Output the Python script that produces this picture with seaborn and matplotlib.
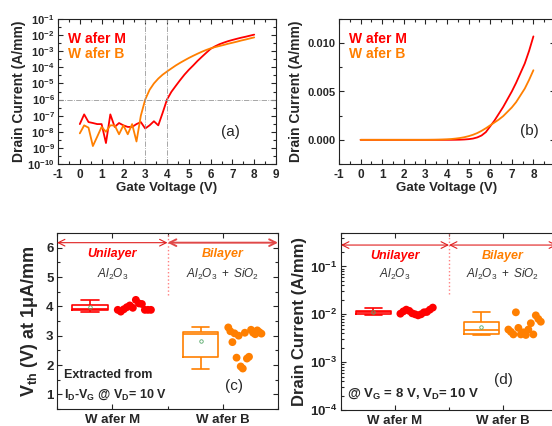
import numpy as np
import pandas as pd
import matplotlib
matplotlib.use('Agg')
import matplotlib.pyplot as plt
import seaborn as sns
from matplotlib.ticker import MultipleLocator, FixedLocator, FuncFormatter, LogLocator, NullFormatter

# ---------------- data ----------------
gate_voltage = np.round(np.arange(0, 8.01, 0.2), 1)
id_wafer_m = [3e-8, 1.2e-7, 4e-8, 3.5e-8, 3e-8, 3e-8, 2e-9, 1.2e-7, 2e-8, 3.5e-8,
              2.5e-8, 2e-8, 2e-8, 3e-8, 4e-8, 1.6e-8, 2.5e-8, 4.5e-8, 2.5e-8, 1.5e-7,
              1e-6, 3e-6, 7e-6, 1.6e-5, 3.5e-5, 7e-5, 1.3e-4, 2.5e-4, 4.5e-4, 8e-4,
              1.4e-3, 2e-3, 2.7e-3, 3.4e-3, 4.2e-3, 5.0e-3, 5.9e-3, 6.9e-3, 7.9e-3, 9.2e-3,
              1.07e-2]
id_wafer_b = [8e-9, 2.5e-8, 1.8e-8, 1.3e-9, 5e-9, 2e-8, 1e-8, 2.5e-8, 2.5e-8, 7e-9,
              2.5e-8, 7e-9, 3e-8, 2.5e-9, 1e-7, 1e-6, 4e-6, 1e-5, 2e-5, 3.5e-5,
              5.5e-5, 8.5e-5, 1.3e-4, 1.9e-4, 2.7e-4, 3.8e-4, 5.2e-4, 7e-4, 9.3e-4, 1.2e-3,
              1.5e-3, 1.8e-3, 2.1e-3, 2.45e-3, 2.9e-3, 3.35e-3, 3.9e-3, 4.6e-3, 5.3e-3, 6.2e-3,
              7.2e-3]

wafers = ['W afer M', 'W afer B']
vth_m = [3.88, 3.82, 3.90, 3.97, 4.03, 3.95, 4.22, 4.10, 4.08, 3.88, 3.88, 3.88]
vth_b = [3.28, 3.15, 2.78, 3.08, 2.25, 3.00, 1.95, 1.88, 3.10, 2.22, 2.28, 3.20,
         3.10, 3.05, 3.18, 3.12, 3.07]
idmax_m = [1.03e-2, 1.15e-2, 1.25e-2, 1.18e-2, 1.05e-2, 1.0e-2, 9.5e-3, 1.0e-2,
           1.1e-2, 1.12e-2, 1.25e-2, 1.38e-2]
idmax_b = [4.8e-3, 4.3e-3, 3.8e-3, 1.1e-2, 5.2e-3, 3.8e-3, 4.2e-3, 3.7e-3,
           4.8e-3, 6.5e-3, 3.8e-3, 9.5e-3, 8.0e-3, 7.0e-3]

RED = '#ff0000'
ORANGE = '#ff7f00'
palette = {wafers[0]: RED, wafers[1]: ORANGE}

# ---------------- style ----------------
sns.set_theme(style='ticks')
plt.rcParams['font.family'] = ['Liberation Sans', 'DejaVu Sans']
plt.rcParams.update({
    'mathtext.fontset': 'custom',
    'mathtext.rm': 'Liberation Sans',
    'mathtext.it': 'Liberation Sans:italic',
    'mathtext.bf': 'Liberation Sans:bold',
    'mathtext.default': 'bf',
    'axes.unicode_minus': False,
    'axes.linewidth': 0.8,
    'axes.edgecolor': '#222222',
    'xtick.direction': 'in',
    'ytick.direction': 'in',
    'xtick.major.size': 3.5,
    'ytick.major.size': 3.5,
    'xtick.minor.size': 2,
    'ytick.minor.size': 2,
    'xtick.major.pad': 3.5,
    'ytick.major.pad': 2.5,
})

fig = plt.figure(figsize=(5.52, 4.26), dpi=100)
W, H = 552, 426
ax_a = fig.add_axes([58 / W, 1 - 164 / H, 218 / W, 145 / H])
ax_b = fig.add_axes([339 / W, 1 - 164 / H, 216 / W, 145 / H])
ax_c = fig.add_axes([57 / W, 1 - 409 / H, 221 / W, 176 / H])
ax_d = fig.add_axes([341 / W, 1 - 410 / H, 216 / W, 177 / H])


def style_axes(ax, size=8.5):
    ax.tick_params(which='both', top=True, right=True, labelsize=size, width=0.8)
    for lbl in ax.get_xticklabels() + ax.get_yticklabels():
        lbl.set_fontweight('bold')


def legend_text(ax, y):
    leg = ax.legend(loc='upper left', bbox_to_anchor=(0.0, y), frameon=False, handlelength=0,
                    handletextpad=0, labelcolor='linecolor', prop={'weight': 'bold', 'size': 10},
                    labelspacing=0.12, borderaxespad=0.3)
    for h in leg.legend_handles:
        h.set_visible(False)


df_iv = pd.DataFrame({
    'Vg': np.concatenate([gate_voltage, gate_voltage]),
    'Id': id_wafer_m + id_wafer_b,
    'wafer': [wafers[0]] * len(gate_voltage) + [wafers[1]] * len(gate_voltage),
})
log_fmt = FuncFormatter(lambda v, p: f'$10^{{{int(round(np.log10(v)))}}}$')

# ---------------- (a) log transfer ----------------
sns.lineplot(data=df_iv, x='Vg', y='Id', hue='wafer', palette=palette, lw=1.3, ax=ax_a)
ax_a.set_yscale('log')
ax_a.set_ylim(1e-10, 1e-1)
ax_a.set_xlim(-1, 9)
ax_a.axvline(3, color='#999999', ls='-.', lw=0.6)
ax_a.axvline(4, color='#999999', ls='-.', lw=0.6)
ax_a.axhline(1e-6, color='#999999', ls='-.', lw=0.6)
ax_a.xaxis.set_major_locator(MultipleLocator(1))
ax_a.xaxis.set_minor_locator(MultipleLocator(0.5))
ax_a.yaxis.set_major_locator(LogLocator(base=10, numticks=20))
ax_a.yaxis.set_minor_locator(FixedLocator([10 ** (e + 0.5) for e in range(-10, -1)]))
ax_a.yaxis.set_minor_formatter(NullFormatter())
ax_a.yaxis.set_major_formatter(log_fmt)
ax_a.set_xlabel('Gate Voltage (V)', fontsize=9.5, fontweight='bold', labelpad=1)
ax_a.set_ylabel('Drain Current (A/mm)', fontsize=10, fontweight='bold', labelpad=1)
legend_text(ax_a, 0.98)
ax_a.text(0.79, 0.22, '(a)', transform=ax_a.transAxes, fontsize=11, ha='center', va='center')
style_axes(ax_a, 8)
ax_a.tick_params(axis='x', labelsize=8.5)

# ---------------- (b) linear transfer ----------------
sns.lineplot(data=df_iv, x='Vg', y='Id', hue='wafer', palette=palette, lw=1.3, ax=ax_b)
ax_b.set_ylim(-0.0025, 0.0125)
ax_b.set_xlim(-1, 9)
ax_b.xaxis.set_major_locator(FixedLocator(range(-1, 9)))
ax_b.xaxis.set_minor_locator(MultipleLocator(0.5))
ax_b.yaxis.set_major_locator(MultipleLocator(0.005))
ax_b.yaxis.set_minor_locator(MultipleLocator(0.0025))
ax_b.yaxis.set_major_formatter(FuncFormatter(lambda v, p: f'{v:.3f}'))
ax_b.set_xlabel('Gate Voltage (V)', fontsize=9.5, fontweight='bold', labelpad=1)
ax_b.set_ylabel('Drain Current (A/mm)', fontsize=10, fontweight='bold', labelpad=3)
legend_text(ax_b, 0.98)
ax_b.text(0.88, 0.23, '(b)', transform=ax_b.transAxes, fontsize=11, ha='center', va='center')
style_axes(ax_b, 8)
ax_b.tick_params(axis='x', labelsize=8.5)


# ---------------- (c) and (d) box + data ----------------
def box_panel(ax, vals_m, vals_b, log):
    df = pd.DataFrame({
        'pos': [0.8] * len(vals_m) + [1.8] * len(vals_b),
        'val': vals_m + vals_b,
        'wafer': [wafers[0]] * len(vals_m) + [wafers[1]] * len(vals_b),
    })
    sns.boxplot(data=df, x='pos', y='val', hue='wafer', palette=palette, native_scale=True,
                width=0.32, fill=False, whis=(0, 100), showmeans=True, linewidth=1.2,
                meanprops={'marker': 'o', 'markersize': 2.5, 'markerfacecolor': 'none',
                           'markeredgewidth': 0.6},
                legend=False, log_scale=(False, log), ax=ax)
    for i, vals in enumerate([vals_m, vals_b]):
        xs = 1.2 + i + np.linspace(-0.15, 0.15, len(vals))
        sns.scatterplot(x=xs, y=vals, color=palette[wafers[i]], s=32, edgecolor='none',
                        legend=False, ax=ax, zorder=3)
    ax.set_xlim(0.5, 2.5)
    ax.set_xticks([1, 2])
    ax.set_xticklabels(wafers)
    ax.xaxis.set_minor_locator(FixedLocator([0.5, 1.5, 2.5]))
    ax.set_xlabel('')


box_panel(ax_c, vth_m, vth_b, False)
ax_c.set_ylim(0.5, 6.5)
ax_c.yaxis.set_major_locator(MultipleLocator(1))
ax_c.yaxis.set_minor_locator(MultipleLocator(0.5))
ax_c.set_ylabel(r'$\mathbf{V_{th}}$ (V) at 1μA/mm', fontsize=13, fontweight='bold', labelpad=4)
ax_c.annotate('', xy=(0.5, 6.17), xytext=(1.5, 6.17),
              arrowprops=dict(arrowstyle='<->', color='#e02020', lw=0.8, shrinkA=0, shrinkB=0))
ax_c.annotate('', xy=(1.5, 6.17), xytext=(2.5, 6.17),
              arrowprops=dict(arrowstyle='<->', color='#e04848', lw=1.4, shrinkA=0, shrinkB=0))
ax_c.plot([1.5, 1.5], [4.4, 6.5], color='#ff8080', ls=':', lw=1)
ax_c.text(1.0, 5.78, 'Unilayer', color=RED, fontsize=9, fontweight='bold', style='italic', ha='center', va='center')
ax_c.text(2.0, 5.78, 'Bilayer', color=ORANGE, fontsize=9, fontweight='bold', style='italic', ha='center', va='center')
ax_c.text(1.0, 5.1, r'$\mathit{Al_2O_3}$', color='#333333', fontsize=8.5, ha='center', va='center')
ax_c.text(2.0, 5.1, r'$\mathit{Al_2O_3\ +\ SiO_2}$', color='#333333', fontsize=8.5, ha='center', va='center')
ax_c.text(0.56, 1.3, 'Extracted from\nI$_\\mathbf{D}$-V$_\\mathbf{G}$ @ V$_\\mathbf{D}$= 10 V',
          fontsize=9, fontweight='bold', ha='left', va='center', linespacing=1.6)
ax_c.text(2.1, 1.3, '(c)', fontsize=11, ha='center', va='center')
style_axes(ax_c, 9.5)
ax_c.tick_params(axis='x', labelsize=9.5)

box_panel(ax_d, idmax_m, idmax_b, True)
ax_d.set_ylim(1e-4, 0.5)
ax_d.yaxis.set_major_locator(FixedLocator([1e-4, 1e-3, 1e-2, 1e-1]))
ax_d.yaxis.set_minor_locator(LogLocator(base=10, subs=np.arange(2, 10), numticks=20))
ax_d.yaxis.set_minor_formatter(NullFormatter())
ax_d.yaxis.set_major_formatter(log_fmt)
ax_d.set_ylabel('Drain Current (A/mm)', fontsize=12, fontweight='bold', labelpad=2)
ax_d.annotate('', xy=(0.5, 0.28), xytext=(1.5, 0.28),
              arrowprops=dict(arrowstyle='<->', color='#e02020', lw=0.8, shrinkA=0, shrinkB=0))
ax_d.annotate('', xy=(1.5, 0.28), xytext=(2.5, 0.28),
              arrowprops=dict(arrowstyle='<->', color='#e02020', lw=0.8, shrinkA=0, shrinkB=0))
ax_d.plot([1.5, 1.5], [0.026, 0.5], color='#ff8080', ls=':', lw=1)
ax_d.text(1.0, 0.165, 'Unilayer', color=RED, fontsize=9, fontweight='bold', style='italic', ha='center', va='center')
ax_d.text(2.0, 0.165, 'Bilayer', color=ORANGE, fontsize=9, fontweight='bold', style='italic', ha='center', va='center')
ax_d.text(1.0, 0.068, r'$\mathit{Al_2O_3}$', color='#333333', fontsize=8.5, ha='center', va='center')
ax_d.text(2.0, 0.068, r'$\mathit{Al_2O_3\ +\ SiO_2}$', color='#333333', fontsize=8.5, ha='center', va='center')
ax_d.text(0.56, 2.2e-4, '@ V$_\\mathbf{G}$ = 8 V, V$_\\mathbf{D}$= 10 V',
          fontsize=9.5, fontweight='bold', ha='left', va='center')
ax_d.text(2.0, 4.2e-4, '(d)', fontsize=11, ha='center', va='center')
style_axes(ax_d, 9.5)

fig.savefig('out.png', dpi=100)
